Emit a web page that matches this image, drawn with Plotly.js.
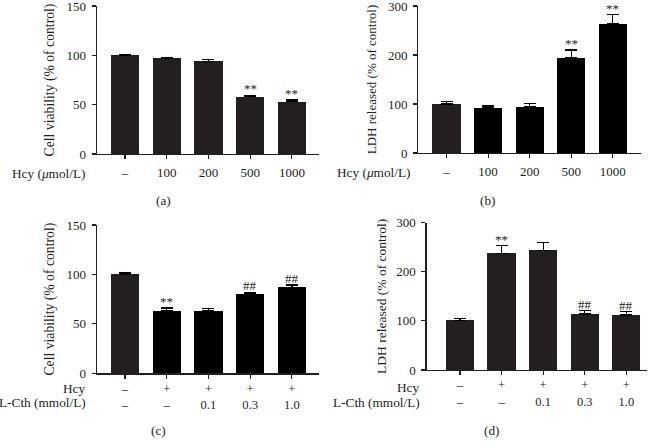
<!DOCTYPE html>
<html><head><meta charset="utf-8">
<script src="https://cdn.plot.ly/plotly-3.0.1.min.js"></script>
<style>html,body{margin:0;padding:0;background:#fff}#chart{width:654px;height:448px}</style>
</head><body><div id="chart"></div>
<script>
// Panel (a): cell viability vs Hcy
const catsA = ['–','100','200','500','1000'];
const valsA = [100, 97, 94, 58, 53];
const errA  = [1, 0.8, 2, 1.5, 1.6];
const markA = ['', '', '', '**', '**'];
// Panel (b): LDH released vs Hcy
const catsB = ['–','100','200','500','1000'];
const valsB = [100, 92.5, 94.5, 194, 263];
const errB  = [5, 3.5, 6.5, 16, 19];
const markB = ['', '', '', '**', '**'];
// Panel (c): cell viability, Hcy + L-Cth
const hcyC  = ['–','+','+','+','+'];
const cthC  = ['–','–','0.1','0.3','1.0'];
const valsC = [100, 63.3, 63, 80.2, 87];
const errC  = [1.5, 2.7, 2.2, 1.6, 2.3];
const markC = ['', '**', '', '##', '##'];
// Panel (d): LDH released, Hcy + L-Cth
const hcyD  = ['–','+','+','+','+'];
const cthD  = ['–','–','0.1','0.3','1.0'];
const valsD = [101, 237.5, 243.5, 114, 112];
const errD  = [3.5, 15.5, 15.5, 6.8, 6.6];
const markD = ['', '**', '', '##', '##'];

const W = 654, H = 448;
const FONT = 'Liberation Serif, Times New Roman, serif';
const TXT = '#231f20';
const px = v => v / W;
const py = v => 1 - v / H;
const idx = [0,1,2,3,4];

function barTrace(vals, errs, colors, xa, ya) {
  return {
    type: 'bar', x: idx, y: vals, width: 0.68,
    marker: {color: colors, line: {width: 0}},
    error_y: {type: 'data', array: errs, arrayminus: errs.map(() => 0), symmetric: false,
              color: '#000', thickness: 1.3, width: 6},
    xaxis: xa, yaxis: ya, hoverinfo: 'skip', showlegend: false
  };
}

const dark = '#231f20', black = '#000000';
const data = [
  barTrace(valsA, errA, [dark, dark, dark, dark, dark], 'x', 'y'),
  barTrace(valsB, errB, [dark, black, black, black, black], 'x2', 'y2'),
  barTrace(valsC, errC, [dark, black, black, black, black], 'x3', 'y3'),
  barTrace(valsD, errD, [dark, dark, dark, dark, dark], 'x4', 'y4')
];

function xax(dom, rng, ticktext, anchor, standoff, fs) {
  return {
    domain: dom, range: rng, anchor: anchor, tickmode: 'array', tickvals: idx, ticktext: ticktext,
    ticks: 'outside', ticklen: 4, tickwidth: 1.2, tickcolor: TXT,
    showline: true, linecolor: TXT, linewidth: 1.3, showgrid: false, zeroline: false,
    tickfont: {family: FONT, size: fs, color: TXT}, ticklabelstandoff: standoff,
    ticklabeloverflow: 'allow', fixedrange: true
  };
}
function yax(dom, rng, dtick, title, anchor, tfs, tso) {
  return {
    domain: dom, range: rng, anchor: anchor, dtick: dtick, tick0: 0,
    ticks: 'outside', ticklen: 4, tickwidth: 1.2, tickcolor: TXT,
    showline: true, linecolor: TXT, linewidth: 1.3, showgrid: false, zeroline: false,
    tickfont: {family: FONT, size: 13, color: TXT}, ticklabelstandoff: 3,
    ticklabeloverflow: 'allow',
    title: {text: title, font: {family: FONT, size: tfs, color: TXT}, standoff: tso},
    fixedrange: true
  };
}

const twoRow = (a, b) => a.map((v, i) => v + '<br>' + b[i]);

const layout = {
  width: W, height: H, margin: {l: 0, r: 0, t: 0, b: 0},
  paper_bgcolor: '#fff', plot_bgcolor: '#fff', bargap: 0,
  xaxis:  xax([px(97), px(319)], [-0.67, 4.65], catsA, 'y', 2, 13),
  yaxis:  yax([py(154), py(6)], [0, 150], 50, 'Cell viability (% of control)', 'x', 13.7, 8),
  xaxis2: xax([px(418.3), px(641)], [-0.68, 4.68], catsB, 'y2', 2, 13),
  yaxis2: yax([py(153), py(6)], [0, 300], 100, 'LDH released (% of control)', 'x2', 13, 8),
  xaxis3: xax([px(97), px(319)], [-0.67, 4.65], twoRow(hcyC, cthC), 'y3', -1, 12.5),
  yaxis3: yax([py(373.3), py(225)], [0, 150], 50, 'Cell viability (% of control)', 'x3', 13.7, 8),
  xaxis4: xax([px(426.7), px(646.7)], [-0.8, 4.49], twoRow(hcyD, cthD), 'y4', -1, 12.5),
  yaxis4: yax([py(370), py(222.7)], [0, 300], 100, 'LDH released (% of control)', 'x4', 13.5, 6),
  annotations: []
};

const ann = layout.annotations;
function addMarks(vals, errs, marks, xa, ya) {
  marks.forEach((m, i) => {
    if (!m) return;
    ann.push({xref: xa, yref: ya, x: i, y: vals[i] + errs[i], text: m, showarrow: false,
      yanchor: 'bottom', yshift: -3, font: {family: FONT, size: 13, color: TXT}});
  });
}
addMarks(valsA, errA, markA, 'x', 'y');
addMarks(valsB, errB, markB, 'x2', 'y2');
addMarks(valsC, errC, markC, 'x3', 'y3');
addMarks(valsD, errD, markD, 'x4', 'y4');

function label(text, xr, y, anchor) {
  ann.push({xref: 'paper', yref: 'paper', x: px(xr), y: py(y), text: text, showarrow: false,
    xanchor: anchor, yanchor: 'middle', font: {family: FONT, size: 13.3, color: TXT}});
}
label('Hcy (<i>μ</i>mol/L)', 88, 173, 'right');
label('Hcy (<i>μ</i>mol/L)', 412.5, 172, 'right');
label('Hcy', 88, 388.3, 'right');
label('L-Cth (mmol/L)', 88, 402.5, 'right');
label('Hcy', 421.7, 387.7, 'right');
label('L-Cth (mmol/L)', 421.7, 402.5, 'right');
label('(a)', 163.5, 200, 'center');
label('(b)', 488.3, 200, 'center');
label('(c)', 158, 430.7, 'center');
label('(d)', 491.7, 430.7, 'center');

Plotly.newPlot('chart', data, layout, {displayModeBar: false, staticPlot: true});
</script>
</body></html>
